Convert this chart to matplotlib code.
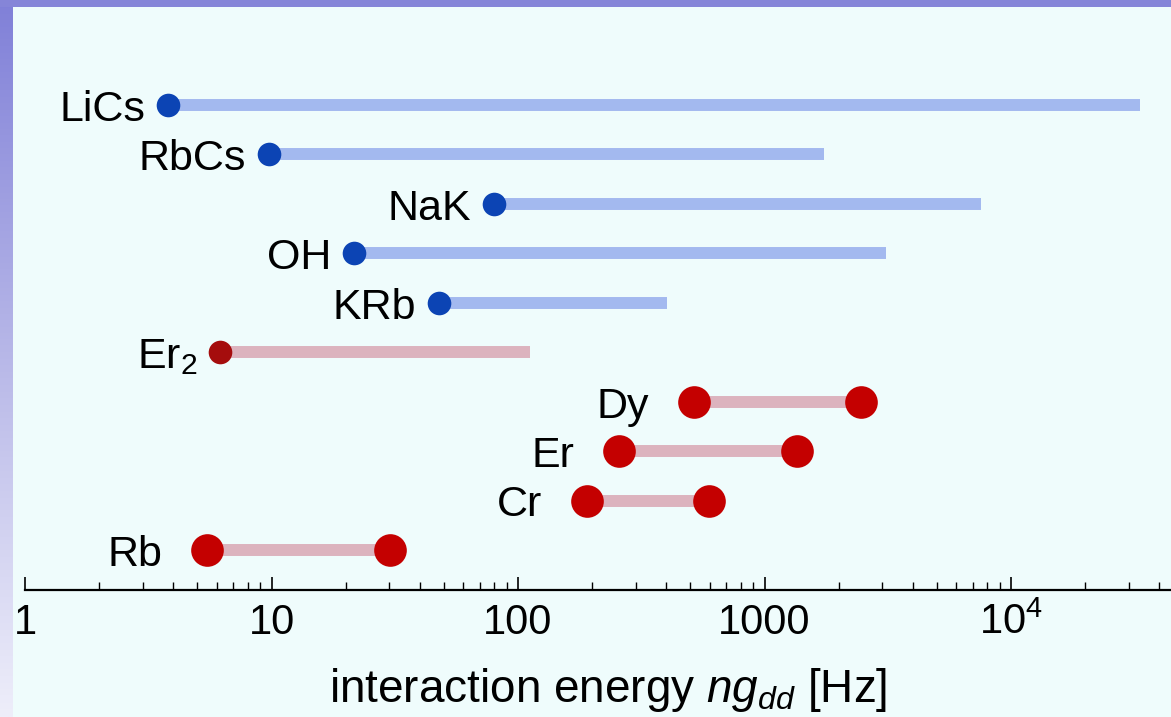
import numpy as np
import matplotlib.pyplot as plt
from matplotlib.colors import LinearSegmentedColormap

plt.rcParams['font.family'] = 'Liberation Sans'
plt.rcParams['mathtext.fontset'] = 'custom'
plt.rcParams['mathtext.rm'] = 'Liberation Sans'
plt.rcParams['mathtext.it'] = 'Liberation Sans:italic'

# interaction energy ranges (Hz), bottom row first
names = ['Rb', 'Cr', 'Er', 'Dy', 'Er$_2$', 'KRb', 'OH', 'NaK', 'RbCs', 'LiCs']
low = [5.5, 190, 257, 517, 6.2, 48, 21.6, 80, 9.8, 3.8]
high = [30.2, 595, 1355, 2460, 112, 402, 3110, 7550, 1740, 33400]
kind = ['atom', 'atom', 'atom', 'atom', 'dimer', 'mol', 'mol', 'mol', 'mol', 'mol']

tick_vals = [1, 10, 100, 1000, 1e4]
tick_text = ['1', '10', '100', '1000', '$10^4$']

bg = '#effcfc'
fig = plt.figure(figsize=(11.71, 7.17), dpi=100, facecolor=bg)

# slide frame: purple band on top, fading band on the left
band = LinearSegmentedColormap.from_list('band', ['#8080d8', '#b8b8e8', '#eeeefa'])
lax = fig.add_axes([0, 0, 13 / 1171, 1])
lax.imshow(np.linspace(0, 1, 256).reshape(-1, 1), cmap=band, aspect='auto')
lax.axis('off')
tax = fig.add_axes([0, 1 - 7 / 717, 1, 7 / 717])
tax.set_facecolor('#8585d8')
tax.set_xticks([])
tax.set_yticks([])
for s in tax.spines.values():
    s.set_visible(False)

ax = fig.add_axes([25 / 1171, 1 - 590 / 717, 1146 / 1171, 570 / 717])
ax.set_facecolor('none')
ax.set_xscale('log')
ax.set_xlim(1, 10 ** (1146 / 246.5))
ax.set_ylim(-40 / 49.5, 530 / 49.5)

style = {
    'mol':   dict(line='#a3b9ef', dot='#0c44b4', ms=17, off=23, both=False),
    'dimer': dict(line='#dcb3be', dot='#a50d0d', ms=17, off=23, both=False),
    'atom':  dict(line='#dcb3be', dot='#c40000', ms=23.5, off=45, both=True),
}

for i, (nm, lo, hi, k) in enumerate(zip(names, low, high, kind)):
    st = style[k]
    ax.plot([lo, hi], [i, i], color=st['line'], lw=8.6, solid_capstyle='butt', zorder=2)
    xs = [lo, hi] if st['both'] else [lo]
    ax.plot(xs, [i] * len(xs), 'o', color=st['dot'], ms=st['ms'], mec='none', zorder=3)
    ax.annotate(nm, (lo, i), xytext=(-st['off'], -16), textcoords='offset pixels',
                ha='right', va='baseline', fontsize=31)

for s in ['left', 'right', 'top']:
    ax.spines[s].set_visible(False)
ax.spines['bottom'].set_linewidth(1.6)
ax.set_yticks([])
ax.set_xticks(tick_vals)
ax.set_xticklabels(tick_text, fontsize=30)
ax.xaxis.set_minor_locator(plt.matplotlib.ticker.LogLocator(base=10, subs=np.arange(2, 10)))
ax.xaxis.set_minor_formatter(plt.NullFormatter())
ax.tick_params(axis='x', which='major', direction='in', length=9.5, width=1.2, pad=9)
ax.tick_params(axis='x', which='minor', direction='in', length=5.5, width=1.0)

fig.text(608 / 1171, 1 - 690 / 717, r'interaction energy $ng_{dd}$ [Hz]',
         ha='center', va='center', fontsize=33)

fig.savefig('out.png', dpi=100, facecolor=bg)
